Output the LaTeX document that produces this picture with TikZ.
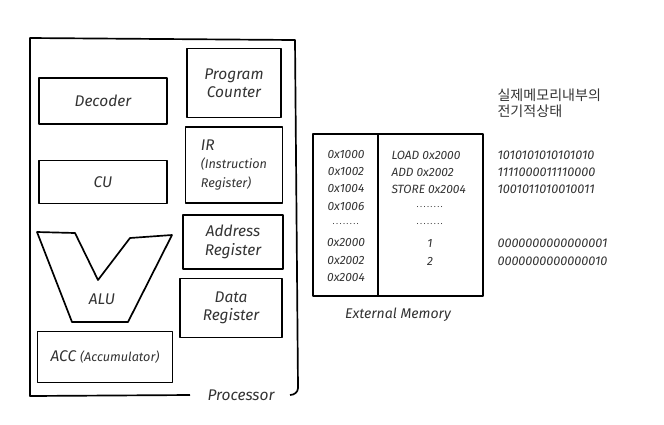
\documentclass[tikz,border=0pt]{standalone}
\usepackage{fontspec}
\setmainfont{Fira Sans}
\newfontfamily\korfont{Noto Sans CJK KR}
\usetikzlibrary{positioning}
\newlength\px
\setlength\px{0.025cm}
\newcommand\memdots{{\fontsize{6}{7}\selectfont .\,.\,.\,.\,.\,.\,.\,.}}

\begin{document}
\begin{tikzpicture}[
    x=0.025cm, y=-0.025cm,
    font=\itshape\fontsize{11}{13}\selectfont,
    text=black!80,
    line width=1.2pt, line join=round,
    box/.style={draw, inner sep=2pt, align=center},
    memtxt/.style={font=\itshape\fontsize{8.5}{10}\selectfont},
    bits/.style={font=\itshape\fontsize{9}{10}\selectfont, anchor=west}
  ]
    \useasboundingbox (0,0) rectangle (664,424);
    % processor frame, open at the label
    \draw (190,395) -- (30,396) -- (30,38) -- (295,40) -- (298,388)
      to[out=-90, in=0] (290,395);
    \node (proc) at (241,395) {Processor};
    % left column
    \node[box, minimum width=128\px, minimum height=46\px] (dec) at (103,101) {Decoder};
    \node[box, minimum width=128\px, minimum height=43\px] (cu) at (103,182) {CU};
    \draw (37,232) -- (75,233) -- (98,280) -- (130,238) -- (172,235)
      -- (128,322) -- (72,322) -- cycle;
    \node (alu) at (102,299) {ALU};
    \node[box, minimum width=135\px, minimum height=51\px] (acc) at (105,357)
      {ACC {\fontsize{9}{10}\selectfont(Accumulator)}};
    % right column
    \node[box, minimum width=94\px, minimum height=69\px] (pc) at (234,83) {Program\\Counter};
    \node[box, minimum width=97\px, minimum height=76\px, align=left] (ir) at (234,165)
      {IR\\{\fontsize{9}{10}\selectfont(Instruction}\\{\fontsize{9}{10}\selectfont Register)}};
    \node[box, minimum width=100\px, minimum height=54\px] (ar) at (233,242) {Address\\Register};
    \node[box, minimum width=102\px, minimum height=59\px] (dr) at (231,308) {Data\\Register};
    % external memory
    \node[draw, minimum width=170\px, minimum height=162\px] (mem) at (398,215) {};
    \draw (378,134) -- (378,296);
    \node[below=4pt of mem, font=\itshape\fontsize{10}{12}\selectfont] (memlbl) {External Memory};
    \foreach \a/\y in {0x1000/155, 0x1002/172, 0x1004/189, 0x1006/207,
                       \memdots/224, 0x2000/243, 0x2002/261, 0x2004/278}
      \node[memtxt] (addr\y) at (346,\y) {\a};
    \foreach \c/\y in {LOAD 0x2000/155, ADD 0x2002/172, STORE 0x2004/189}
      \node[memtxt, anchor=west] (ins\y) at (386,\y) {\c};
    \foreach \c/\y in {\memdots/207, \memdots/224, 1/243, 2/261}
      \node[memtxt] (val\y) at (430,\y) {\c};
    % electrical state
    \node[anchor=west, align=left, font=\korfont\fontsize{10}{11}\selectfont] (state)
      at (492,103) {실제메모리내부의\\전기적상태};
    \foreach \b/\y in {1010101010101010/155, 1111000011110000/172,
                       1001011010010011/189, 0000000000000001/243,
                       0000000000000010/261}
      \node[bits] (bit\y) at (492,\y) {\b};
\end{tikzpicture}
\end{document}
